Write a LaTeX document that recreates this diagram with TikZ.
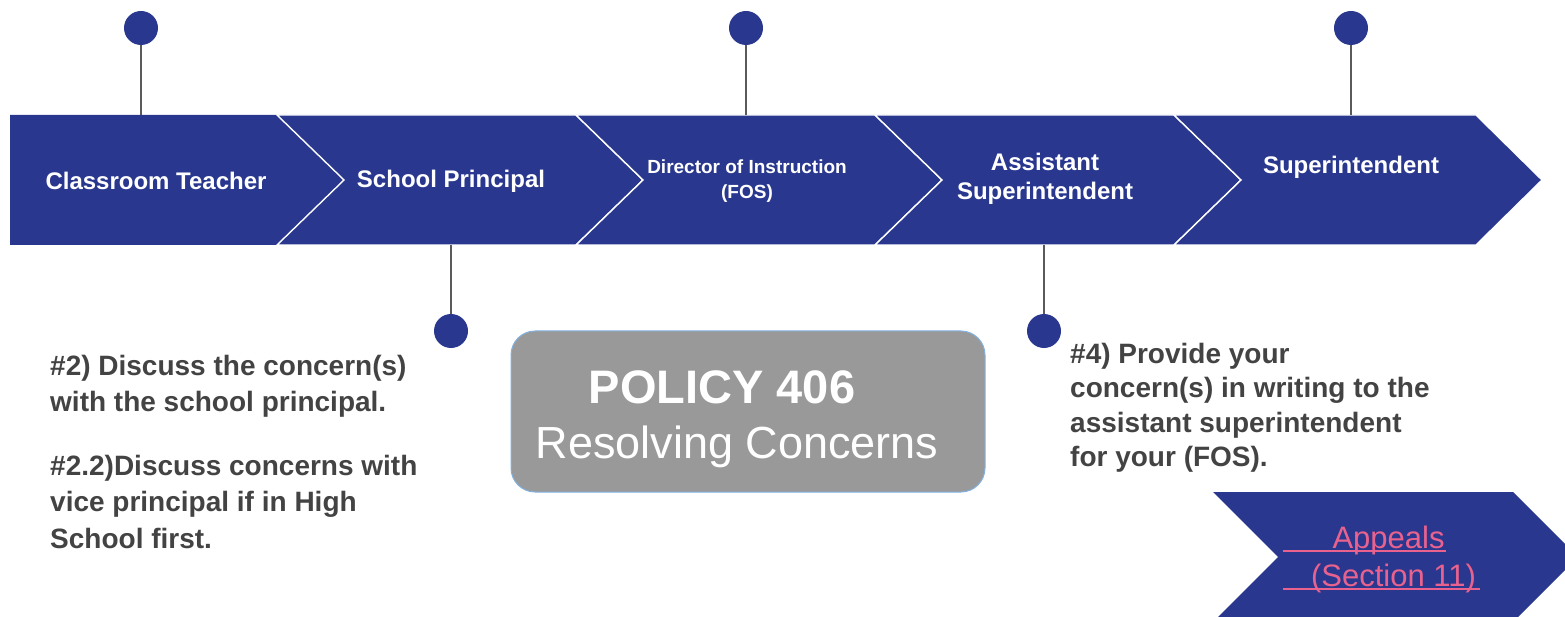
\documentclass[tikz,border=0pt]{standalone}
\usepackage{fontspec}
\setmainfont{Liberation Sans}
\definecolor{band}{RGB}{41,56,142}
\definecolor{pinline}{RGB}{90,90,90}
\definecolor{bodytext}{RGB}{67,67,67}
\definecolor{boxgray}{RGB}{153,153,153}
\definecolor{boxedge}{RGB}{130,178,225}
\definecolor{linkpink}{RGB}{233,98,142}
\begin{document}
\begin{tikzpicture}[x=1pt,y=-1pt,
  chev/.style={fill=band,draw=white,line width=1.4pt,line join=miter},
  pin/.style={circle,fill=band,minimum size=34pt,inner sep=0pt},
  stem/.style={draw=pinline,line width=1.6pt},
  steplabel/.style={text=white,font=\bfseries\fontsize{24}{29}\selectfont,align=center,inner sep=0pt},
  smalllabel/.style={text=white,font=\bfseries\fontsize{19}{25}\selectfont,align=center,inner sep=0pt},
  note/.style={text=bodytext,font=\bfseries\fontsize{28}{32}\selectfont,anchor=base west,inner sep=0pt},
  policy/.style={fill=boxgray,draw=boxedge,line width=1pt,rounded corners=24pt,minimum width=474pt,minimum height=161pt},
  link/.style={text=linkpink,font=\fontsize{31}{36}\selectfont,anchor=base,inner sep=0pt},
]
\useasboundingbox (0,0) rectangle (1565,617);
\clip (0,0) rectangle (1565,617);

% chevron band
\fill[band] (10,115) -- (277,115) -- (344,180) -- (277,245) -- (10,245) -- cycle;
\draw[chev] (277,115) -- (576,115) -- (643,180) -- (576,245) -- (277,245) -- (344,180) -- cycle;
\draw[chev] (576,115) -- (875,115) -- (942,180) -- (875,245) -- (576,245) -- (643,180) -- cycle;
\draw[chev] (875,115) -- (1174,115) -- (1241,180) -- (1174,245) -- (875,245) -- (942,180) -- cycle;
\draw[chev] (1174,115) -- (1476,115) -- (1542,180) -- (1476,245) -- (1174,245) -- (1241,180) -- cycle;

% attachment points on the band
\coordinate (a1) at (141,115);
\coordinate (a2) at (451,245);
\coordinate (a3) at (746,115);
\coordinate (a4) at (1044,245);
\coordinate (a5) at (1351,115);

% pins
\node[pin] (p1) at (141,28) {};
\node[pin] (p2) at (451,331) {};
\node[pin] (p3) at (746,28) {};
\node[pin] (p4) at (1044,331) {};
\node[pin] (p5) at (1351,28) {};
\draw[stem] (p1) -- (a1);
\draw[stem] (a2) -- (p2);
\draw[stem] (p3) -- (a3);
\draw[stem] (a4) -- (p4);
\draw[stem] (p5) -- (a5);

% step labels
\node[steplabel] (s1) at (156,181) {Classroom Teacher};
\node[steplabel] (s2) at (451,181) {School Principal};
\node[smalllabel] (s3) at (747,181) {Director of Instruction\\(FOS)};
\node[steplabel] (s4) at (1045,179) {Assistant\\Superintendent};
\node[steplabel] (s5) at (1351,167) {Superintendent};

% notes
\node[note] (n1) at (50,375) {\#2) Discuss the concern(s)};
\node[note] (n2) at (50,411.5) {with the school principal.};
\node[note] (n3) at (50,475) {\#2.2)Discuss concerns with};
\node[note] (n4) at (50,511.5) {vice principal if in High};
\node[note] (n5) at (50,548) {School first.};

\node[note] (r1) at (1070,363) {\#4) Provide your};
\node[note] (r2) at (1070,397.5) {concern(s) in writing to the};
\node[note] (r3) at (1070,432) {assistant superintendent};
\node[note] (r4) at (1070,466.5) {for your (FOS).};

% policy box
\node[policy] (box) at (748,411.5) {};
\node[text=white,font=\bfseries\fontsize{47}{50}\selectfont,anchor=base,inner sep=0pt] (t1) at (722,403) {POLICY 406};
\node[text=white,font=\fontsize{45}{50}\selectfont,anchor=base,inner sep=0pt] (t2) at (737,458) {Resolving Concerns};

% appeals chevron
\fill[band] (1213,492) -- (1513,492) -- (1578,557) -- (1513,622) -- (1213,622) -- (1278,557) -- cycle;
\node[link] (ap1) at (1388.5,548) {Appeals};
\node[link] (ap2) at (1393.5,586) {(Section 11)};
\coordinate (u1a) at (1283,551);
\coordinate (u1b) at (1446,551);
\coordinate (u2a) at (1283,589);
\coordinate (u2b) at (1480,589);
\draw[linkpink,line width=1.5pt] (u1a) -- (u1b);
\draw[linkpink,line width=1.5pt] (u2a) -- (u2b);
\end{tikzpicture}
\end{document}
